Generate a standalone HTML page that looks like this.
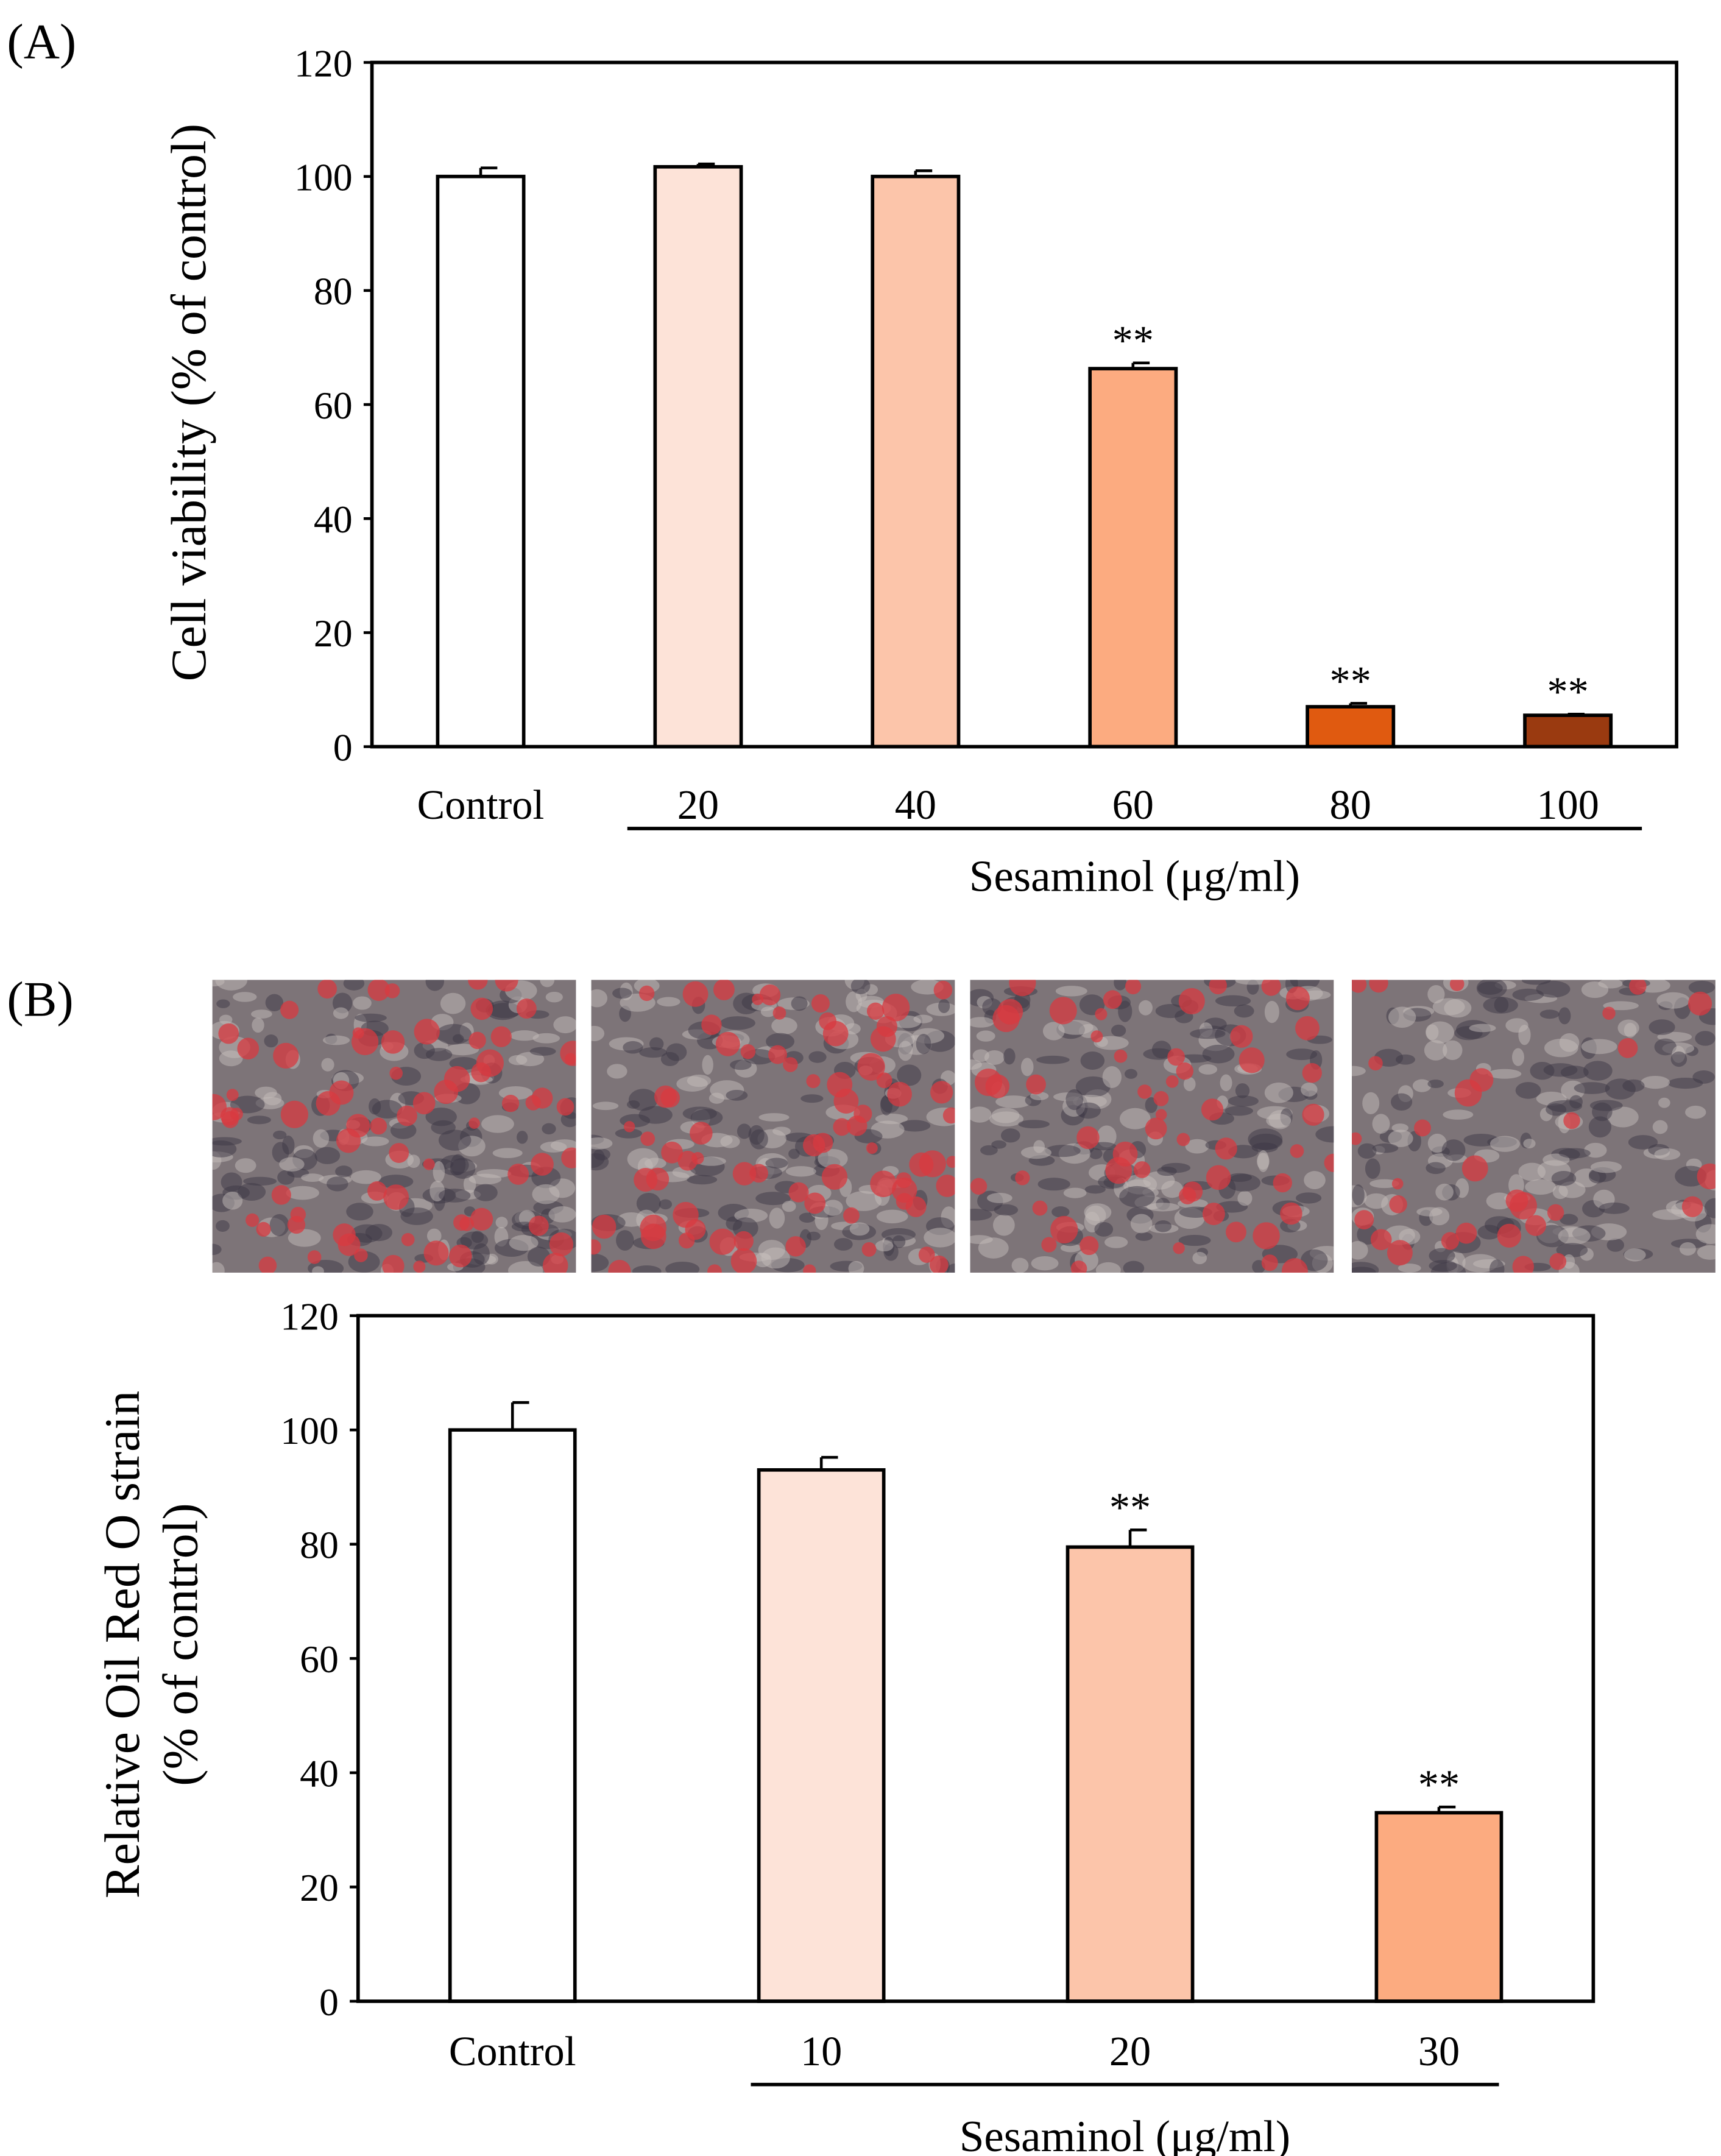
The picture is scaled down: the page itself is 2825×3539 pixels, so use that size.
<!DOCTYPE html>
<html><head><meta charset="utf-8"><style>
html,body{margin:0;padding:0;background:#fff}
svg{display:block}
text{font-family:"Liberation Serif",serif;fill:#000}
</style></head><body>
<svg id="s" width="2825" height="3539" viewBox="0 0 1240 1553.5" preserveAspectRatio="none" xmlns="http://www.w3.org/2000/svg">
<rect width="1240" height="1554" fill="#fff"/>
<text x="5" y="42" font-size="36">(A)</text>
<text x="5" y="732" font-size="36">(B)</text>
<g id="gA"></g>
<g id="gImg"></g>
<g id="gB"></g>
</svg>
<script>
const catsA=["Control","20","40","60","80","100"];
const valsA=[100,101.7,100,66.3,7,5.5];
const errA=[1.5,0.5,1,1,0.6,0.2];
const sigA=["","","","**","**","**"];
const colsA=["#ffffff","#fde3d8","#fcc5aa","#fcab80","#e05a10","#9a3a10"];
const catsB=["Control","10","20","30"];
const valsB=[100,93,79.5,33];
const errB=[4.8,2.2,3,1];
const sigB=["","","**","**"];
const colsB=["#ffffff","#fde3d8","#fcc5aa","#fcab80"];
const ticks=[0,20,40,60,80,100,120];
const NS="http://www.w3.org/2000/svg";
function el(p,t,a,txt){const e=document.createElementNS(NS,t);for(const k in a)e.setAttribute(k,a[k]);if(txt!==undefined)e.textContent=txt;p.appendChild(e);return e;}
function chart(g,cfg){
 const {L,R,T,B,cats,vals,errs,sig,cols,bw,lineX0,lineX1,lineY,labY,xtY,titleX,titleLines,titleCY,pre}=cfg;
 const y=v=>B-(v/120)*(B-T);
 const step=(R-L)/cats.length;
 const x=i=>L+step*(i+0.5);
 ticks.forEach(t=>{
  const tl=el(g,"text",{x:L-14,y:y(t)+10,"font-size":28,"text-anchor":"end"},t);
  
  
  el(g,"line",{x1:L-6,x2:L,y1:y(t),y2:y(t),stroke:"#000","stroke-width":2});
 });
 cats.forEach((c,i)=>{
  const r=el(g,"rect",{x:x(i)-bw/2,y:y(vals[i]),width:bw,height:B-y(vals[i]),fill:cols[i],stroke:"#000","stroke-width":2.5});
  
  
  const top=y(vals[i]+errs[i]);
  el(g,"line",{x1:x(i),x2:x(i),y1:y(vals[i]),y2:top,stroke:"#000","stroke-width":2});
  el(g,"line",{x1:x(i),x2:x(i)+12,y1:top,y2:top,stroke:"#000","stroke-width":2});
  if(sig[i]){const s=el(g,"text",{x:x(i),y:top-6,"font-size":30,"text-anchor":"middle"},sig[i]);
   
   }
  const lt=el(g,"text",{x:x(i),y:xtY,"font-size":30,"text-anchor":"middle"},c);
  
  
 });
 const fr=el(g,"rect",{x:L,y:T,width:R-L,height:B-T,fill:"none",stroke:"#000","stroke-width":2.5});
 
 
 el(g,"line",{x1:lineX0,x2:lineX1,y1:lineY,y2:lineY,stroke:"#000","stroke-width":2.5});
 const xt=el(g,"text",{x:(lineX0+lineX1)/2,y:labY,"font-size":32,"text-anchor":"middle"},"Sesaminol (μg/ml)");
 
 
 titleLines.forEach((t,k)=>{
  const tx=titleX+k*42;
  const tt=el(g,"text",{x:tx,y:titleCY,"font-size":36,"text-anchor":"middle",transform:`rotate(-90 ${tx} ${titleCY})`},t);
  
  
 });
}
chart(document.getElementById("gA"),{L:268,R:1208,T:45,B:538,cats:catsA,vals:valsA,errs:errA,sig:sigA,cols:colsA,bw:62,lineX0:452,lineX1:1183,lineY:597,labY:642,xtY:590,titleX:148,titleLines:["Cell viability (% of control)"],titleCY:290,pre:"a-"});
chart(document.getElementById("gB"),{L:258,R:1148,T:948,B:1442,cats:catsB,vals:valsB,errs:errB,sig:sigB,cols:colsB,bw:90,lineX0:541,lineX1:1080,lineY:1502,labY:1550,xtY:1488,titleX:100,titleLines:["Relative Oil Red O strain","(% of control)"],titleCY:1185,pre:"b-"});
// micrographs (texture only)
const gi=document.getElementById("gImg");
const imgX=[153,426,699,974],redAmt=[70,75,55,30];
let seed=7;const rnd=()=>{seed=(seed*16807)%2147483647;return seed/2147483647;};
const defs=el(gi,"defs",{});
imgX.forEach((ix,k)=>{
 const cp=el(defs,"clipPath",{id:"cp"+k});
 el(cp,"rect",{x:ix,y:706,width:262,height:211});
 const g=el(gi,"g",{"clip-path":`url(#cp${k})`});
 
 
 el(g,"rect",{x:ix,y:706,width:262,height:211,fill:"#7d7478"});
 for(let n=0;n<200;n++){el(g,"ellipse",{cx:ix+rnd()*262,cy:706+rnd()*211,rx:4+rnd()*9,ry:3+rnd()*5,fill:rnd()<0.5?"#c4bcba":"#3e3846",opacity:0.5});}
 for(let n=0;n<redAmt[k];n++){el(g,"circle",{cx:ix+rnd()*262,cy:706+rnd()*211,r:4+rnd()*6,fill:"#d83a40",opacity:0.75});}
});
</script>
</body></html>
